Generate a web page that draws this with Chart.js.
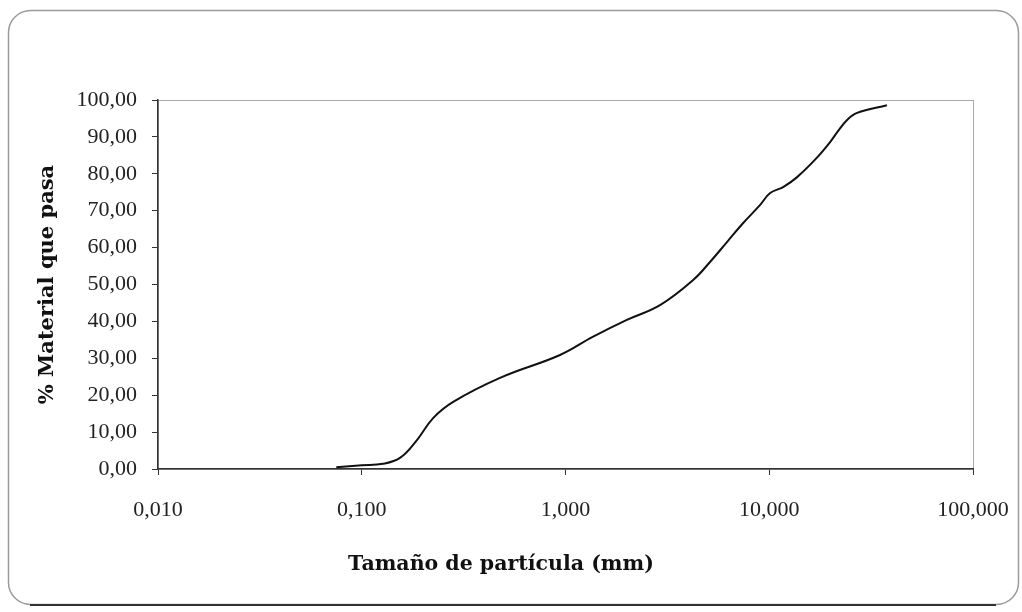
<!DOCTYPE html>
<html>
<head>
<meta charset="utf-8">
<script src="https://cdn.jsdelivr.net/npm/chart.js@4/dist/chart.umd.min.js"></script>
<style>
  html, body { margin: 0; padding: 0; background: #fff; }
  #wrap { width: 1022px; height: 612px; }
</style>
</head>
<body>
<div id="wrap"><canvas id="curvaGranulometrica" width="1022" height="612"></canvas></div>
<script>
// tamaño de partícula (mm) y % que pasa
const tamanos = [0.075, 0.1, 0.127, 0.154, 0.187, 0.224, 0.281, 0.477, 0.94, 1.36, 2.0, 2.91, 4.23, 5.12, 6.2, 7.43, 9.0, 10.1, 11.7, 13.7, 17.1, 19.9, 21.7, 24.1, 27.0, 37.8];
const pasa = [0.5, 1.0, 1.4, 3.0, 7.9, 13.8, 18.2, 24.7, 30.9, 35.8, 40.4, 44.4, 51.2, 56.1, 61.5, 66.6, 71.5, 74.8, 76.4, 79.1, 84.3, 88.6, 91.5, 94.6, 96.5, 98.6];

const xTicks = [0.01, 0.1, 1, 10, 100];
const yTicks = [0, 10, 20, 30, 40, 50, 60, 70, 80, 90, 100];

const tickFont = { family: '"Liberation Serif", serif', size: 22 };
const titleFont = { family: '"DejaVu Serif", serif', size: 21, weight: 'bold' };

// marco redondeado del gráfico y borde gris del área de trazado
const marco = {
  id: 'marco',
  beforeDraw(chart) {
    const c = chart.ctx;
    const a = chart.chartArea;
    c.save();
    c.strokeStyle = '#9a9a9a';
    c.lineWidth = 1.5;
    c.beginPath();
    c.roundRect(8.5, 10.5, 1010, 594, 22);
    c.stroke();
    c.strokeStyle = '#333';
    c.lineWidth = 2;
    c.beginPath();
    c.moveTo(30, 605);
    c.lineTo(996, 605);
    c.stroke();
    c.strokeStyle = '#aaa';
    c.lineWidth = 1;
    c.strokeRect(a.left + 0.5, a.top + 0.5, a.right - a.left, a.bottom - a.top);
    c.restore();
  }
};

new Chart(document.getElementById('curvaGranulometrica').getContext('2d'), {
  type: 'line',
  data: {
    datasets: [{
      data: tamanos.map((t, i) => ({ x: t, y: pasa[i] })),
      borderColor: '#111',
      borderWidth: 2,
      pointRadius: 0,
      fill: false,
      tension: 0.4
    }]
  },
  options: {
    responsive: false,
    animation: false,
    layout: { padding: { left: 29, right: 49, top: 100, bottom: 35 } },
    plugins: {
      legend: { display: false },
      tooltip: { enabled: false },
      title: {
        display: true,
        position: 'bottom',
        text: 'Tamaño de partícula (mm)',
        color: '#111',
        font: { family: '"DejaVu Serif", serif', size: 20.5, weight: 'bold' },
        padding: 0
      }
    },
    scales: {
      x: {
        type: 'logarithmic',
        min: 0.01,
        max: 100,
        afterBuildTicks: scale => { scale.ticks = xTicks.map(v => ({ value: v })); },
        afterFit: scale => {
          scale.height = 83.4;
          scale.paddingLeft = 0;
          scale.paddingRight = 0;
        },
        grid: { drawOnChartArea: false, tickLength: 6, color: '#333' },
        border: { color: '#333', width: 1.5 },
        ticks: {
          color: '#222',
          font: tickFont,
          padding: 22,
          maxRotation: 0,
          autoSkip: false,
          callback: v => Number(v).toFixed(3).replace('.', ',')
        }
      },
      y: {
        min: 0,
        max: 100,
        afterBuildTicks: scale => { scale.ticks = yTicks.map(v => ({ value: v })); },
        afterFit: scale => { scale.width = 129; },
        grid: { drawOnChartArea: false, tickLength: 6, color: '#333' },
        border: { color: '#333', width: 1.5 },
        ticks: {
          color: '#222',
          font: tickFont,
          padding: 15,
          callback: v => Number(v).toFixed(2).replace('.', ',')
        },
        title: {
          display: true,
          text: '% Material que pasa',
          color: '#111',
          font: titleFont,
          padding: { top: 6, bottom: 0 }
        }
      }
    }
  },
  plugins: [marco]
});
</script>
</body>
</html>
